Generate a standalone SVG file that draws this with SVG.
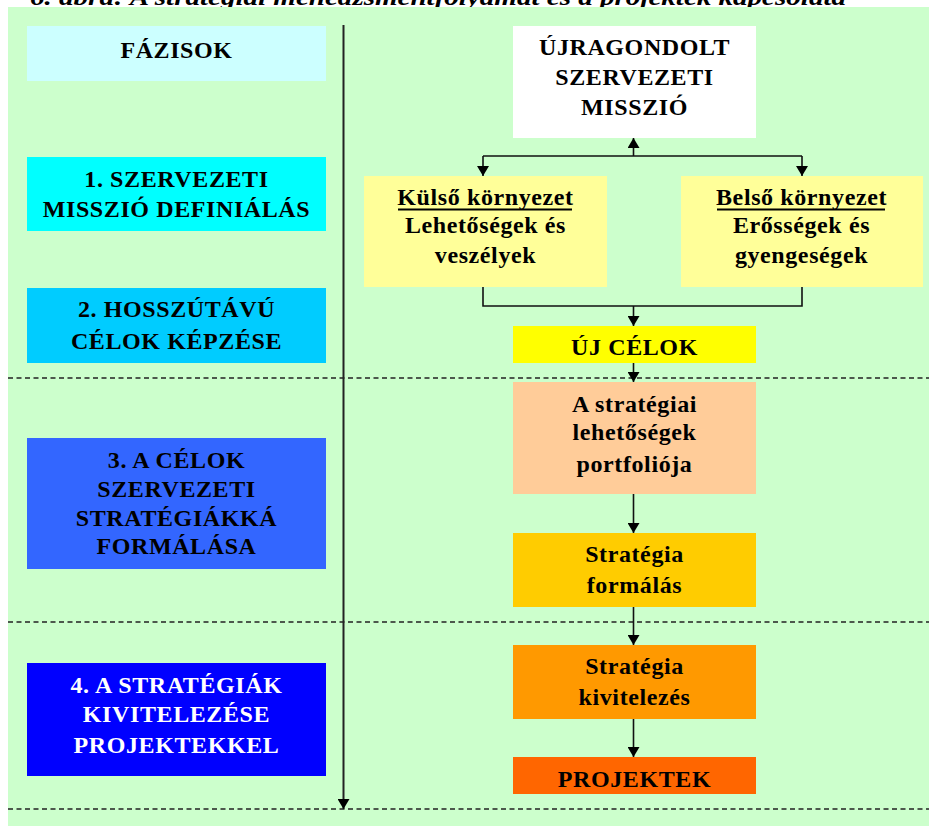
<svg xmlns="http://www.w3.org/2000/svg" width="929" height="826" viewBox="0 0 929 826">
  <style>
    text { font-family: "Liberation Serif", "DejaVu Serif", serif; }
    .t { font-weight: bold; font-size: 24px; fill: #000; text-anchor: middle; letter-spacing: 0.6px; }
    .w { fill: #fff; }
    .title { font-weight: bold; font-style: italic; font-size: 24px; fill: #000; }
    .ln { stroke: #111; stroke-width: 1.6; fill: none; }
    .dash { stroke: #222; stroke-width: 1.5; stroke-dasharray: 5 3.5; fill: none; }
    .ul { stroke: #000; stroke-width: 2; }
  </style>
  <defs>
    <marker id="ah" viewBox="0 0 10 12" refX="10" refY="6" markerWidth="10" markerHeight="12" markerUnits="userSpaceOnUse" orient="auto">
      <path d="M0,0 L10,6 L0,12 Z" fill="#000"/>
    </marker>
  </defs>

  <!-- caption line, clipped by the page edge -->
  <text class="title" x="30" y="5" textLength="816" lengthAdjust="spacingAndGlyphs">6. ábra: A stratégiai menedzsmentfolyamat és a projektek kapcsolata</text>

  <!-- background panel -->
  <rect x="8" y="7" width="921" height="819" fill="#CCFFCC"/>

  <!-- phase separators, time axis and flow links -->
  <g id="connectors">
    <line class="dash" x1="8" y1="378" x2="929" y2="378"/>
    <line class="dash" x1="8" y1="622" x2="929" y2="622"/>
    <line class="dash" x1="8" y1="809" x2="929" y2="809"/>
    <line x1="343.5" y1="25" x2="343.5" y2="809" stroke="#222" stroke-width="2" marker-end="url(#ah)"/>

    <!-- mission <-> environments -->
    <line class="ln" x1="633.5" y1="156" x2="633.5" y2="138" marker-end="url(#ah)"/>
    <line class="ln" x1="483" y1="156" x2="802" y2="156"/>
    <line class="ln" x1="483" y1="156" x2="483" y2="176" marker-end="url(#ah)"/>
    <line class="ln" x1="802" y1="156" x2="802" y2="176" marker-end="url(#ah)"/>

    <!-- environments -> new goals -->
    <polyline class="ln" points="483,287 483,306 802,306 802,287"/>
    <line class="ln" x1="633.5" y1="306" x2="633.5" y2="326" marker-end="url(#ah)"/>

    <!-- main chain -->
    <line class="ln" x1="633.5" y1="363" x2="633.5" y2="382" marker-end="url(#ah)"/>
    <line class="ln" x1="633.5" y1="494" x2="633.5" y2="533" marker-end="url(#ah)"/>
    <line class="ln" x1="633.5" y1="607" x2="633.5" y2="645" marker-end="url(#ah)"/>
    <line class="ln" x1="633.5" y1="719" x2="633.5" y2="757" marker-end="url(#ah)"/>
  </g>

  <!-- phase column -->
  <g id="fazisok">
    <rect x="27" y="26" width="299" height="55" fill="#CCFFFF"/>
    <text class="t" x="176.5" y="58">FÁZISOK</text>
  </g>
  <g id="phase1">
    <rect x="27" y="157" width="299" height="74" fill="#00FFFF"/>
    <text class="t" x="176.5" y="187">1. SZERVEZETI</text>
    <text class="t" x="176.5" y="217">MISSZIÓ DEFINIÁLÁS</text>
  </g>
  <g id="phase2">
    <rect x="27" y="288" width="299" height="75" fill="#00CCFF"/>
    <text class="t" x="176.5" y="317">2. HOSSZÚTÁVÚ</text>
    <text class="t" x="176.5" y="349">CÉLOK KÉPZÉSE</text>
  </g>
  <g id="phase3">
    <rect x="27" y="438" width="299" height="131" fill="#3366FF"/>
    <text class="t" x="176.5" y="468">3. A CÉLOK</text>
    <text class="t" x="176.5" y="497">SZERVEZETI</text>
    <text class="t" x="176.5" y="526">STRATÉGIÁKKÁ</text>
    <text class="t" x="176.5" y="554">FORMÁLÁSA</text>
  </g>
  <g id="phase4">
    <rect x="27" y="663" width="299" height="113" fill="#0000FF"/>
    <text class="t w" x="176.5" y="693">4. A STRATÉGIÁK</text>
    <text class="t w" x="176.5" y="722">KIVITELEZÉSE</text>
    <text class="t w" x="176.5" y="753">PROJEKTEKKEL</text>
  </g>

  <!-- process column -->
  <g id="mission">
    <rect x="513" y="26" width="243" height="112" fill="#FFFFFF"/>
    <text class="t" x="634.5" y="55">ÚJRAGONDOLT</text>
    <text class="t" x="634.5" y="85">SZERVEZETI</text>
    <text class="t" x="634.5" y="115">MISSZIÓ</text>
  </g>
  <g id="external">
    <rect x="364" y="176" width="243" height="111" fill="#FFFF99"/>
    <text class="t" x="485.5" y="205">Külső környezet</text>
    <line class="ul" x1="398" y1="209.5" x2="572" y2="209.5"/>
    <text class="t" x="485.5" y="233">Lehetőségek és</text>
    <text class="t" x="485.5" y="263">veszélyek</text>
  </g>
  <g id="internal">
    <rect x="681" y="176" width="242" height="111" fill="#FFFF99"/>
    <text class="t" x="801.5" y="205">Belső környezet</text>
    <line class="ul" x1="717" y1="209.5" x2="885" y2="209.5"/>
    <text class="t" x="801.5" y="233">Erősségek és</text>
    <text class="t" x="801.5" y="263">gyengeségek</text>
  </g>
  <g id="new-goals">
    <rect x="513" y="326" width="243" height="37" fill="#FFFF00"/>
    <text class="t" x="634.5" y="355">ÚJ CÉLOK</text>
  </g>
  <g id="portfolio">
    <rect x="513" y="382" width="243" height="112" fill="#FFCC99"/>
    <text class="t" x="634.5" y="412">A stratégiai</text>
    <text class="t" x="634.5" y="440">lehetőségek</text>
    <text class="t" x="634.5" y="472">portfoliója</text>
  </g>
  <g id="formulation">
    <rect x="513" y="533" width="243" height="74" fill="#FFCC00"/>
    <text class="t" x="634.5" y="562">Stratégia</text>
    <text class="t" x="634.5" y="593">formálás</text>
  </g>
  <g id="implementation">
    <rect x="513" y="645" width="243" height="74" fill="#FF9900"/>
    <text class="t" x="634.5" y="674">Stratégia</text>
    <text class="t" x="634.5" y="705">kivitelezés</text>
  </g>
  <g id="projects">
    <rect x="513" y="757" width="243" height="37" fill="#FF6600"/>
    <text class="t" x="634.5" y="787">PROJEKTEK</text>
  </g>
</svg>
